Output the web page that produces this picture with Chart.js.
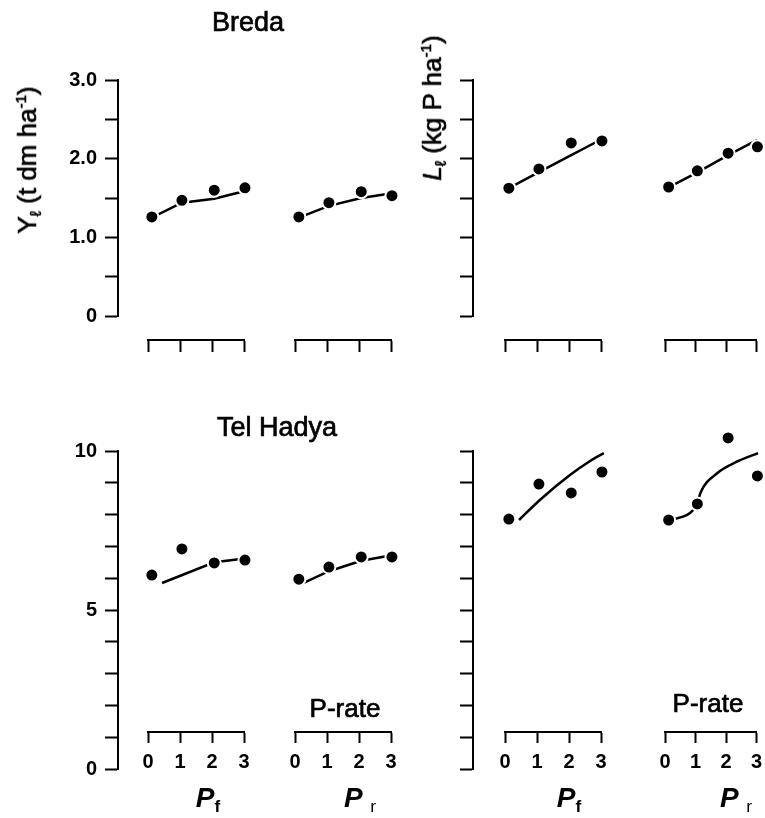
<!DOCTYPE html>
<html>
<head>
<meta charset="utf-8">
<script src="https://cdn.jsdelivr.net/npm/chart.js@4.4.0/dist/chart.umd.min.js"></script>
<style>
body{margin:0;background:#fff;}
#wrap{position:relative;width:765px;height:818px;overflow:hidden;font-family:"Liberation Sans",Arial,sans-serif;color:#000;}
#wrap canvas{position:absolute;left:0;top:0;}
.lbl{position:absolute;white-space:nowrap;line-height:1;-webkit-text-stroke:0.7px #000;}
.lbl sub{font-size:0.62em;vertical-align:-0.3em;line-height:0;}
.lbl sup{font-size:0.58em;vertical-align:0.65em;line-height:0;}
.px{font-weight:bold;-webkit-text-stroke:0;}
</style>
</head>
<body>
<div id="wrap"></div>
<script>
// P rate ticks and where the dots sit on them
const pTicks = [0, 1, 2, 3]
const pRate = [0.12, 1.06, 2.07, 3.03]

const bredaYieldTickVals = [0, 1, 2, 3]
const bredaYieldTicks = ['0', '1.0', '2.0', '3.0']
const thYieldTickVals = [0, 5, 10]
const thYieldTicks = ['0', '5', '10']

// Breda
const bredaYieldPf = [1.26, 1.47, 1.60, 1.63]
const bredaYieldPr = [1.26, 1.44, 1.58, 1.53]
const bredaUptakePf = [3.25, 3.74, 4.40, 4.45]
const bredaUptakePr = [3.28, 3.69, 4.14, 4.30]
const bredaYieldPfFit = [1.25, 1.44, 1.49, 1.59]
const bredaYieldPrFit = [1.25, 1.40, 1.50, 1.56]
const bredaUptakePfFit = [3.25, 3.66, 4.09, 4.50]
const bredaUptakePrFit = [3.27, 3.65, 4.09, 4.48]

// Tel Hadya
const thYieldPf = [6.10, 6.92, 6.48, 6.57]
const thYieldPr = [5.97, 6.35, 6.67, 6.67]
const thUptakePf = [15.72, 17.92, 17.36, 18.68]
const thUptakePr = [15.66, 16.67, 20.82, 18.43]
const thYieldPfFitX = [0.44, 2.07, 3.03]
const thYieldPfFit = [5.85, 6.50, 6.62]
const thYieldPrFit = [5.78, 6.22, 6.55, 6.72]
const thUptakePfFitX = [0.44, 1.09, 2.03, 2.66, 3.09]
const thUptakePfFit = [15.66, 16.92, 18.49, 19.37, 19.87]
const thUptakePrFitX = [0.13, 1.05, 1.16, 1.72, 2.34, 3.05]
const thUptakePrFit = [15.62, 16.63, 17.36, 18.62, 19.31, 19.87]

const W = 765, H = 818
const FONT = '"Liberation Sans", Arial, sans-serif'
const HEAD = 25
const wrap = document.getElementById('wrap')

const rows = {
  breda: {top: 80, zero: 316, axis: 340, tick: 12, labels: false},
  th: {top: 451, zero: 769, axis: 732, tick: 11, labels: true}
}
const cols = [[148, 244], [295, 391], [505, 601], [665, 761]]

function canvas() {
  const c = document.createElement('canvas')
  c.width = W
  c.height = H
  wrap.appendChild(c)
  return c
}

function yAxis(x, row, max, step, vals, labels) {
  new Chart(canvas(), {
    type: 'scatter',
    data: {datasets: []},
    options: {
      responsive: false, animation: false, events: [],
      plugins: {legend: {display: false}, tooltip: {enabled: false}},
      layout: {padding: {left: x - 100, right: W - x - 10, top: row.top, bottom: H - row.zero}},
      scales: {
        x: {display: false, min: 0, max: 1},
        y: {
          min: 0, max: max, position: 'left',
          afterFit: s => { s.width = 100; s.paddingTop = 0; s.paddingBottom = 0 },
          border: {display: true, color: '#000', width: 2},
          grid: {drawOnChartArea: false, tickLength: 13, tickColor: '#000', tickWidth: 2},
          ticks: {
            stepSize: step, autoSkip: false, color: '#000', padding: 8,
            font: {family: FONT, size: 20, weight: 'bold'},
            callback: v => { const i = vals.indexOf(v); return i < 0 ? '' : labels[i] }
          }
        }
      }
    }
  })
}

function fitLine(xs, ys, smooth) {
  return {
    data: xs.map((x, i) => ({x: x, y: ys[i]})),
    showLine: true, borderColor: '#000', borderWidth: 2.5, pointRadius: 0,
    cubicInterpolationMode: smooth ? 'monotone' : 'default', tension: 0,
    clip: false, order: 1
  }
}

function panel(c, row, max, obs, lines) {
  const [x0, x3] = cols[c]
  const perUnit = (row.zero - row.top) / max
  const ymin = (row.zero - row.axis) / perUnit
  const ymax = max + HEAD / perUnit
  const dots = {
    data: pRate.map((x, i) => ({x: x, y: obs[i]})),
    pointRadius: 6.5, pointBackgroundColor: '#000', pointBorderColor: '#fff', pointBorderWidth: 2,
    showLine: false, clip: false, order: 0
  }
  new Chart(canvas(), {
    type: 'scatter',
    data: {datasets: [dots].concat(lines)},
    options: {
      responsive: false, animation: false, events: [],
      plugins: {legend: {display: false}, tooltip: {enabled: false}},
      layout: {padding: {left: x0, right: W - x3, top: row.top - HEAD, bottom: H - row.axis - 45}},
      scales: {
        x: {
          type: 'linear', min: 0, max: 3, position: 'bottom',
          afterFit: s => { s.height = 45; s.paddingLeft = 0; s.paddingRight = 0 },
          border: {display: true, color: '#000', width: 2},
          grid: {drawOnChartArea: false, tickLength: row.tick, tickColor: '#000', tickWidth: 2},
          ticks: {
            display: row.labels, stepSize: 1, autoSkip: false, maxRotation: 0, color: '#000', padding: 7,
            font: {family: FONT, size: 20, weight: 'bold'},
            callback: v => pTicks.includes(v) ? String(v) : ''
          }
        },
        y: {display: false, min: ymin, max: ymax}
      }
    }
  })
}

function text(html, cx, base, size) {
  const d = document.createElement('div')
  d.className = 'lbl'
  d.innerHTML = html
  d.style.fontSize = size + 'px'
  d.style.left = cx + 'px'
  d.style.top = (base - 0.85 * size) + 'px'
  d.style.transform = 'translateX(-50%)'
  wrap.appendChild(d)
}

function vtext(html, cx, cy, size) {
  const d = document.createElement('div')
  d.className = 'lbl'
  d.innerHTML = html
  d.style.fontSize = size + 'px'
  d.style.left = cx + 'px'
  d.style.top = cy + 'px'
  d.style.transform = 'translate(-50%, -50%) rotate(-90deg)'
  wrap.appendChild(d)
}

// axes
yAxis(118, rows.breda, 3, 0.5, bredaYieldTickVals, bredaYieldTicks)
yAxis(473, rows.breda, 6, 1, [], [])
yAxis(118, rows.th, 10, 1, thYieldTickVals, thYieldTicks)
yAxis(473, rows.th, 20, 2, [], [])

// Breda panels
panel(0, rows.breda, 3, bredaYieldPf, [fitLine(pRate, bredaYieldPfFit)])
panel(1, rows.breda, 3, bredaYieldPr, [fitLine(pRate, bredaYieldPrFit)])
panel(2, rows.breda, 6, bredaUptakePf, [fitLine(pRate, bredaUptakePfFit)])
panel(3, rows.breda, 6, bredaUptakePr, [fitLine(pRate, bredaUptakePrFit)])

// Tel Hadya panels
panel(0, rows.th, 10, thYieldPf, [fitLine(thYieldPfFitX, thYieldPfFit)])
panel(1, rows.th, 10, thYieldPr, [fitLine(pRate, thYieldPrFit)])
panel(2, rows.th, 20, thUptakePf, [fitLine(thUptakePfFitX, thUptakePfFit, true)])
panel(3, rows.th, 20, thUptakePr, [fitLine(thUptakePrFitX, thUptakePrFit, true)])

// titles
text('Breda', 248, 32, 27)
text('Tel Hadya', 277, 437, 27)
text('P-rate', 345, 717, 26)
text('P-rate', 708, 712, 26)
vtext('Y<sub>ℓ</sub> (t dm ha<sup>-1</sup>)', 27, 160, 26)
vtext('<i>L</i><sub>ℓ</sub> (kg P ha<sup>-1</sup>)', 432, 108, 26)

const pf = '<i class="px">P</i><sub class="px">f</sub>'
const pr = '<i class="px">P</i> <sub class="px" style="font-weight:normal">r</sub>'
text(pf, 208, 808, 28)
text(pr, 360, 808, 28)
text(pf, 569, 808, 28)
text(pr, 736, 808, 28)
</script>
</body>
</html>
